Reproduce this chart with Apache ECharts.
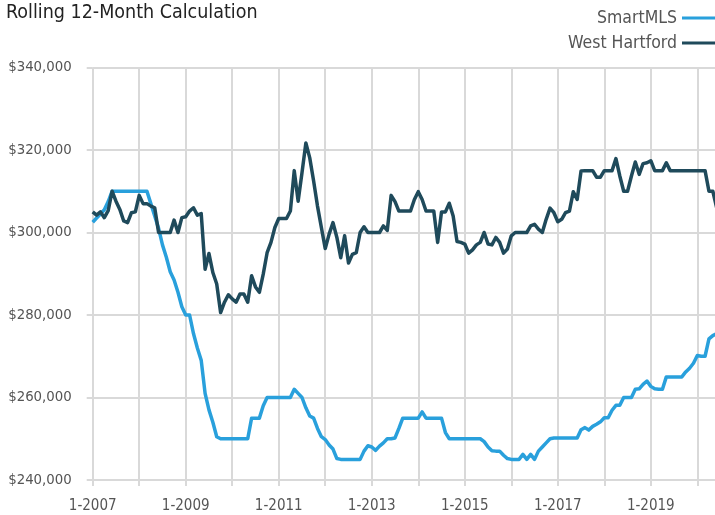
<!DOCTYPE html>
<html><head><meta charset="utf-8">
<script src="https://cdn.jsdelivr.net/npm/echarts@6/dist/echarts.min.js"></script>
<style>html,body{margin:0;padding:0;background:#fff}#c{width:715px;height:515px}</style>
</head><body><div id="c"></div>
<script>
const FONT = '"Liberation Sans Narrow","Arial Narrow","DejaVu Sans Condensed",sans-serif';
const titleText = 'Rolling 12-Month Calculation';
const seriesNames = ['SmartMLS', 'West Hartford'];
const startYear = 2007;
const monthCount = 162;
const months = [];
for (let i = 0; i < monthCount; i++) { months.push(((i % 12) + 1) + '-' + (startYear + Math.floor(i / 12))); }

const smartMLS = [
302500,303500,304500,305500,307500,310000,310000,310000,310000,310000,310000,310000,
310000,310000,310000,307000,304000,301000,297000,294000,290500,288500,285500,282000,
280000,280000,275500,272000,269000,261000,257000,254000,250500,250000,250000,250000,
250000,250000,250000,250000,250000,255000,255000,255000,258000,260000,260000,260000,
260000,260000,260000,260000,262000,261000,260000,257500,255500,255000,252500,250500,
249800,248500,247500,245200,245000,245000,245000,245000,245000,245000,247000,248300,
248000,247200,248200,249000,250000,250000,250200,252500,255000,255000,255000,255000,
255000,256500,255000,255000,255000,255000,255000,251500,250000,250000,250000,250000,
250000,250000,250000,250000,250000,249300,248000,247100,247000,247000,246000,245200,
245000,245000,245000,246200,245000,246200,245000,247000,248000,249000,250000,250200,
250200,250200,250200,250200,250200,250200,252200,252700,252100,253000,253500,254100,
255100,255100,256900,258100,258100,260000,260000,260000,262000,262100,263200,264000,
262700,262100,262000,262000,265000,265000,265000,265000,265000,266200,267100,268300,
270200,270000,270000,274200,275000,275500
];

const westHartford = [
305000,304200,305000,303600,305300,310000,307600,305600,302800,302400,304800,305000,
309000,307000,307000,306400,306000,300000,300000,300000,300000,303000,300000,303600,
303800,305200,306000,304200,304600,291100,294900,290300,287500,280600,283100,284900,
283900,283100,285100,285100,283100,289500,286800,285500,289900,295100,297600,301200,
303400,303400,303400,305200,315000,307600,314500,321700,318100,312500,306400,301200,
296100,299600,302400,298800,293900,299200,292600,294700,295100,300000,301400,300000,
300000,300000,300000,301600,300500,309000,307500,305200,305200,305200,305200,308000,
309900,308000,305200,305200,305200,297600,305000,305000,307100,304000,297800,297600,
297200,295000,295800,297000,297600,300000,297200,297000,298800,297600,295000,296000,
299200,300000,300000,300000,300000,301600,302000,300800,300000,303200,305900,304800,
302600,303200,304800,305200,309900,308000,314900,315000,315000,315000,313400,313400,
315000,315000,315000,317900,313700,310000,310000,313700,317100,314100,316700,316900,
317400,315000,315000,315000,316900,315000,315000,315000,315000,315000,315000,315000,
315000,315000,315000,310000,310000,306000
];

const yMin = 240000, yMax = 340000, yStep = 20000;
const gridColor = '#d9d9d9';
const colors = ['#29a0dc', '#1f4a5b'];

const chart = echarts.init(document.getElementById('c'), null, { renderer: 'canvas' });
chart.setOption({
  animation: false,
  title: {
    text: titleText, left: 6, top: 3, padding: 0,
    textStyle: { fontFamily: FONT, fontSize: 19.5, fontWeight: 'normal', color: '#222' }
  },
  legend: {
    orient: 'vertical', right: 0, top: 7, align: 'right', padding: 0,
    itemWidth: 33, itemHeight: 3, itemGap: 3, icon: 'rect',
    textStyle: { fontFamily: FONT, fontSize: 17.5, color: '#555', lineHeight: 22 },
    data: seriesNames
  },
  grid: { left: 92.7, right: -1.7, top: 67.5, bottom: 35, containLabel: false, outerBoundsMode: 'none' },
  xAxis: {
    type: 'category', data: months, boundaryGap: false,
    axisLine: { lineStyle: { color: gridColor, width: 2 } },
    axisTick: { interval: (i) => i % 12 === 0, length: 6, lineStyle: { color: gridColor, width: 2 } },
    axisLabel: { interval: (i) => i % 24 === 0, margin: 19, fontFamily: FONT, fontSize: 15, color: '#555' },
    splitLine: { show: true, interval: (i) => i % 12 === 0, lineStyle: { color: gridColor, width: 2 } }
  },
  yAxis: {
    type: 'value', min: yMin, max: yMax, interval: yStep,
    axisLine: { show: false },
    axisTick: { show: true, length: 6, lineStyle: { color: gridColor, width: 2 } },
    axisLabel: { margin: 21, fontFamily: FONT, fontSize: 14.8, color: '#555',
      formatter: (v) => '$' + v.toLocaleString('en-US') },
    splitLine: { lineStyle: { color: gridColor, width: 2 } }
  },
  series: [
    { name: seriesNames[0], type: 'line', data: smartMLS, symbol: 'none', showSymbol: false,
      color: colors[0], itemStyle: { color: colors[0] }, lineStyle: { color: colors[0], width: 3.5, join: 'round' } },
    { name: seriesNames[1], type: 'line', data: westHartford, symbol: 'none', showSymbol: false,
      color: colors[1], itemStyle: { color: colors[1] }, lineStyle: { color: colors[1], width: 3.5, join: 'round' } }
  ]
});
</script></body></html>
